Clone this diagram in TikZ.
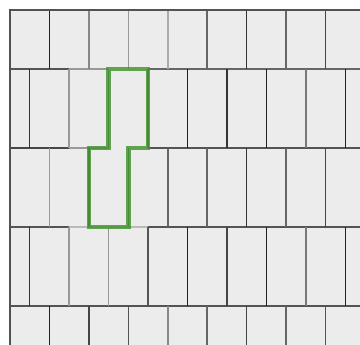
\documentclass[tikz,border=0pt]{standalone}
\begin{document}
\begin{tikzpicture}[x=1pt,y=-1pt,
  vline/.style={line width=1.5pt},
  hline/.style={line width=2pt},
  frameline/.style={line width=2.6pt,draw=black!68},
  outline/.style={line width=4.6pt,draw={rgb,255:red,64;green,146;blue,46},opacity=0.82,line join=miter}]
\useasboundingbox (0,0) rectangle (360,345);
\def\w{39.45}
\fill[black!7.5] (10,10) rectangle (360,345);
\begin{scope}
\clip (10,10) rectangle (360,345);
% horizontal joints
\draw[hline,black!67] (10,69) -- (69,69);
\draw[hline,black!40] (69,69) -- (108,69);
\draw[hline,black!60] (148,69) -- (360,69);
\draw[hline,black!72] (10,148) -- (69,148);
\draw[hline,black!40] (69,148) -- (108,148);
\draw[hline,black!67] (148,148) -- (360,148);
\draw[hline,black!67] (10,227) -- (69,227);
\draw[hline,black!27] (69,227) -- (148,227);
\draw[hline,black!67] (148,227) -- (360,227);
\draw[hline,black!67] (10,306) -- (360,306);
% vertical joints, rows 1,3,5
\foreach \k/\c in {1/87,2/47,3/40,4/33,5/60,6/80,7/60,8/73}
  \draw[vline,black!\c] ({10+\k*\w},10) -- ({10+\k*\w},69);
\foreach \k/\c in {1/40,2/60,3/60,4/60,5/60,6/80,7/60,8/73}
  \draw[vline,black!\c] ({10+\k*\w},148) -- ({10+\k*\w},227);
\foreach \k/\c in {1/87,2/73,3/67,4/47,5/60,6/73,7/60,8/67}
  \draw[vline,black!\c] ({10+\k*\w},306) -- ({10+\k*\w},345);
% vertical joints, rows 2,4
\foreach \k/\c in {1/80,2/40,3/60,4/60,5/87,6/80,7/87,8/53,9/87}
  \draw[vline,black!\c] ({10+(\k-0.5)*\w},69) -- ({10+(\k-0.5)*\w},148);
\foreach \k/\c in {1/80,2/40,3/40,4/67,5/87,6/73,7/87,8/53,9/87}
  \draw[vline,black!\c] ({10+(\k-0.5)*\w},227) -- ({10+(\k-0.5)*\w},306);
\end{scope}
% highlighted pair of tiles
\coordinate (p1) at ({10+2.5*\w},69);
\coordinate (p2) at ({10+3.5*\w},69);
\coordinate (p3) at ({10+3.5*\w},148);
\coordinate (p4) at ({10+3*\w},148);
\coordinate (p5) at ({10+3*\w},227);
\coordinate (p6) at ({10+2*\w},227);
\coordinate (p7) at ({10+2*\w},148);
\coordinate (p8) at ({10+2.5*\w},148);
\draw[outline] (p1) -- (p2) -- (p3) -- (p4) -- (p5) -- (p6) -- (p7) -- (p8) -- cycle;
% frame
\draw[frameline] (10,345) -- (10,10) -- (360,10);
\end{tikzpicture}
\end{document}
